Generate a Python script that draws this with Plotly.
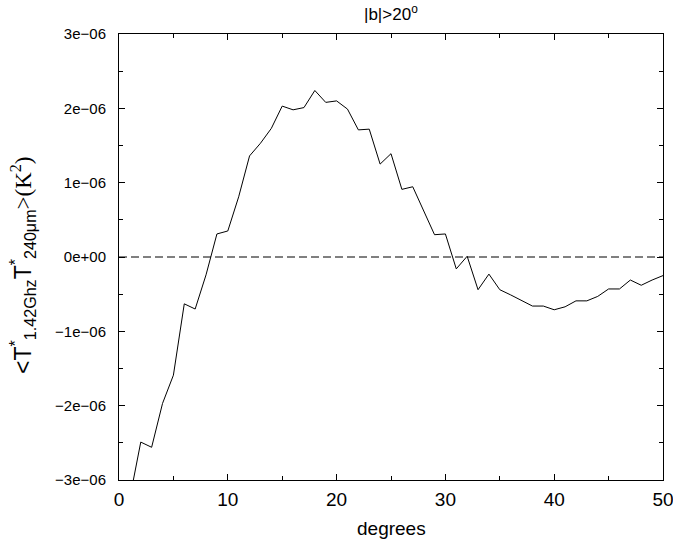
import plotly.graph_objects as go

# Cross-correlation of the 1.42 GHz and 240 micron maps versus angular separation
degrees = list(range(1, 51))
corr_1e6 = [
    -3.24, -2.49, -2.56, -1.97, -1.59, -0.63, -0.70, -0.24, 0.31, 0.35,
    0.81, 1.36, 1.53, 1.73, 2.03, 1.98, 2.01, 2.24, 2.08, 2.10,
    1.99, 1.71, 1.72, 1.25, 1.39, 0.91, 0.945, 0.62, 0.30, 0.31,
    -0.16, 0.01, -0.44, -0.23, -0.44, -0.51, -0.59, -0.66, -0.66, -0.71,
    -0.67, -0.59, -0.59, -0.53, -0.43, -0.43, -0.31, -0.38, -0.31, -0.25,
]
corr = [v * 1e-6 for v in corr_1e6]

zero_x = [0, 50]
zero_y = [0, 0]

y_tickvals = [-3e-6, -2e-6, -1e-6, 0, 1e-6, 2e-6, 3e-6]
y_ticktext = ["\u22123e\u221206", "\u22122e\u221206", "\u22121e\u221206", "0e+00",
              "1e\u221206", "2e\u221206", "3e\u221206"]
x_tickvals = [0, 10, 20, 30, 40, 50]

font_family = "Liberation Sans, Arial, Helvetica, sans-serif"
serif_family = "Liberation Serif, Times New Roman, serif"

fig = go.Figure()
fig.add_trace(go.Scatter(x=zero_x, y=zero_y, mode="lines",
                         line=dict(color="black", width=1, dash="8px,4px"),
                         showlegend=False, hoverinfo="skip"))
fig.add_trace(go.Scatter(x=degrees, y=corr, mode="lines",
                         line=dict(color="black", width=1),
                         showlegend=False))

axis_common = dict(
    showgrid=False, zeroline=False, showline=True, linecolor="black", linewidth=1,
    mirror="allticks", ticks="inside", ticklen=6, tickcolor="black", tickwidth=1,
    automargin=False, ticklabeloverflow="allow",
)

fig.update_layout(
    width=673, height=539,
    margin=dict(l=119, r=10, t=34, b=59),
    paper_bgcolor="white", plot_bgcolor="white",
    font=dict(family=font_family, color="black"),
    xaxis=dict(range=[0, 50], tickvals=x_tickvals, tickfont=dict(size=19),
               ticklabelstandoff=2,
               minor=dict(dtick=5, ticks="inside", ticklen=4, tickcolor="black"),
               **axis_common),
    yaxis=dict(range=[-3e-6, 3e-6], tickvals=y_tickvals, ticktext=y_ticktext,
               tickfont=dict(size=15), ticklabelstandoff=9,
               minor=dict(dtick=0.5e-6, ticks="inside", ticklen=4, tickcolor="black"),
               **axis_common),
    annotations=[
        dict(text="|b|>20<sup>o</sup>", x=0.5, y=1, xref="paper", yref="paper",
             xanchor="center", yanchor="bottom", yshift=8, showarrow=False,
             font=dict(size=17)),
        dict(text="degrees", x=0.5, y=0, xref="paper", yref="paper",
             xanchor="center", yanchor="top", yshift=-36, showarrow=False,
             font=dict(size=19)),
        dict(text="<T<sup>*</sup><sub>1.42Ghz</sub>T<sup>*</sup><sub>240\u03bcm</sub>"
                  f"<span style=\"font-family:{serif_family}\">&gt;(K<sup>2</sup>)</span>",
             x=0, y=0.48, xref="paper", yref="paper", xanchor="right", yanchor="middle",
             xshift=-79, textangle=-90, showarrow=False, font=dict(size=23)),
    ],
)

fig.write_html("out.html")
